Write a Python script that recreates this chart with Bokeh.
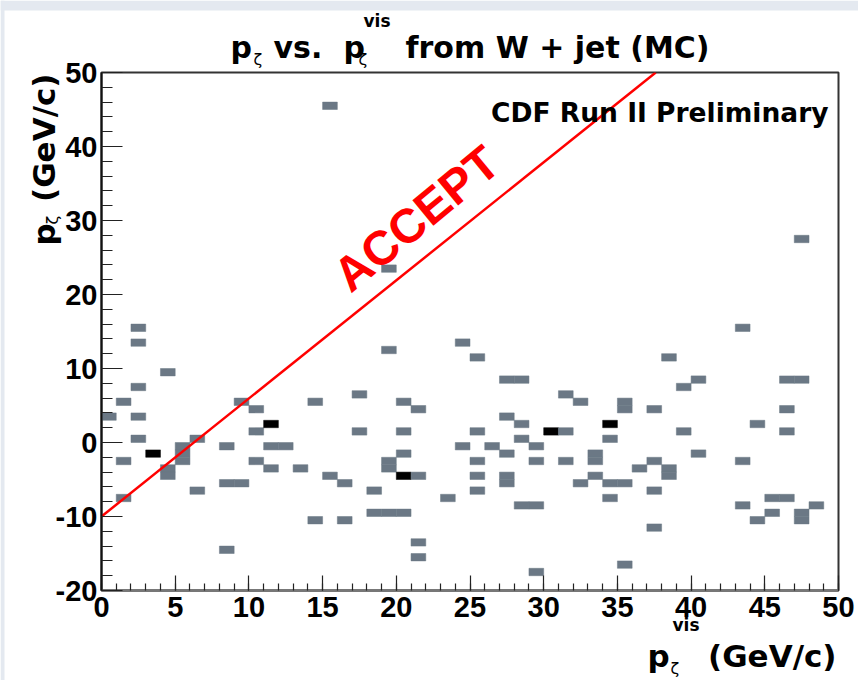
import numpy as np
from bokeh.plotting import figure
from bokeh.models import Range1d, SingleIntervalTicker, Label, GridBox, Column, NumeralTickFormatter
from bokeh.embed import file_html
from bokeh.resources import INLINE

# ---- histogram cells (bin centres, 1x1 GeV/c bins) and entries ----
cell_x = [0.5, 1.5, 1.5, 1.5, 2.5, 2.5, 2.5, 2.5, 2.5, 3.5,
          4.5, 4.5, 4.5, 5.5, 5.5, 5.5, 6.5, 6.5, 8.5, 8.5,
          9.5, 8.5, 9.5, 10.5, 10.5, 10.5, 11.5, 11.5, 12.5, 11.5,
          13.5, 14.5, 14.5, 15.5, 15.5, 16.5, 16.5, 17.5, 17.5, 18.5,
          18.5, 19.5, 20.5, 19.5, 19.5, 19.5, 19.5, 20.5, 20.5, 20.5,
          20.5, 21.5, 21.5, 21.5, 21.5, 23.5, 24.5, 24.5,
          25.5, 25.5, 25.5, 25.5, 25.5, 26.5, 27.5, 28.5, 27.5, 27.5,
          27.5, 27.5, 28.5, 28.5, 28.5, 29.5, 29.5, 29.5, 29.5, 30.5,
          31.5, 31.5, 31.5, 32.5, 32.5, 33.5, 33.5, 33.5, 34.5, 34.5,
          34.5, 35.5, 34.5, 35.5, 35.5, 35.5, 36.5, 37.5, 37.5, 37.5,
          37.5, 38.5, 38.5, 38.5, 39.5, 39.5, 40.5, 40.5, 43.5, 43.5,
          43.5, 44.5, 44.5, 45.5, 45.5, 46.5, 46.5, 47.5, 46.5, 46.5,
          47.5, 47.5, 47.5, 48.5]
cell_y = [3.5, 5.5, -2.5, -7.5, 15.5, 13.5, 7.5, 3.5, 0.5, -1.5,
          9.5, -3.5, -4.5, -0.5, -1.5, -2.5, 0.5, -6.5, -0.5, -5.5,
          -5.5, -14.5, 5.5, 4.5, 1.5, -2.5, 2.5, -0.5, -0.5, -3.5,
          -3.5, 5.5, -10.5, 45.5, -4.5, -5.5, -10.5, 6.5, 1.5, -6.5,
          -9.5, -9.5, -9.5, 12.5, 23.5, -2.5, -3.5, 5.5, 1.5, -1.5,
          -4.5, 4.5, -4.5, -13.5, -15.5, -7.5, 13.5, -0.5,
          11.5, 1.5, -2.5, -4.5, -6.5, -0.5, 8.5, 8.5, 3.5, -1.5,
          -4.5, -5.5, 2.5, 0.5, -8.5, -8.5, -0.5, -2.5, -17.5, 1.5,
          1.5, 6.5, -2.5, 5.5, -5.5, -1.5, -2.5, -4.5, 2.5, 0.5,
          -5.5, -5.5, -7.5, 5.5, 4.5, -16.5, -3.5, 4.5, -2.5, -6.5,
          -11.5, 11.5, -3.5, -4.5, 7.5, 1.5, 8.5, -1.5, 15.5, -2.5,
          -8.5, 2.5, -10.5, -9.5, -7.5, -7.5, 8.5, 8.5, 4.5, 1.5,
          27.5, -9.5, -10.5, -8.5]
cell_n = [1, 1, 1, 1, 1, 1, 1, 1, 1, 2,
          1, 1, 1, 1, 1, 1, 1, 1, 1, 1,
          1, 1, 1, 1, 1, 1, 2, 1, 1, 1,
          1, 1, 1, 1, 1, 1, 1, 1, 1, 1,
          1, 1, 1, 1, 1, 1, 1, 1, 1, 1,
          2, 1, 1, 1, 1, 1, 1, 1,
          1, 1, 1, 1, 1, 1, 1, 1, 1, 1,
          1, 1, 1, 1, 1, 1, 1, 1, 1, 2,
          1, 1, 1, 1, 1, 1, 1, 1, 2, 1,
          1, 1, 1, 1, 1, 1, 1, 1, 1, 1,
          1, 1, 1, 1, 1, 1, 1, 1, 1, 1,
          1, 1, 1, 1, 1, 1, 1, 1, 1, 1,
          1, 1, 1, 1]

# acceptance cut line
cut_x = [0.0, 37.6]
cut_y = [-10.0, 50.0]

x_ticks_interval = 5
y_ticks_interval = 10

W, H = 858, 680
FX0, FY0, SX, SY = 101.0, 72.0, 737.0 / 50.0, 518.0 / 70.0

# ---------------- main plot ----------------
p = figure(width=W, height=H, x_range=Range1d(0, 50), y_range=Range1d(-20, 50),
           output_backend="svg", toolbar_location=None, title=None,
           min_border_left=101, min_border_right=20, min_border_top=72, min_border_bottom=90,
           background_fill_color="white", border_fill_color="white")
p.grid.visible = False
p.outline_line_color = "#333333"
p.outline_line_width = 2

bw = 1.0
left = [x - bw / 2 for x in cell_x]
right = [x + bw / 2 for x in cell_x]
bottom = [y - bw / 2 for y in cell_y]
top = [y + bw / 2 for y in cell_y]
palette = {1: "#6b7885", 2: "#000000"}
colors = [palette[n] for n in cell_n]
p.quad(left=left, right=right, bottom=bottom, top=top, fill_color=colors, line_color=colors,
       line_width=0.5)

p.line(cut_x, cut_y, line_color="#ff0000", line_width=2.5)

p.xaxis.ticker = SingleIntervalTicker(interval=x_ticks_interval, num_minor_ticks=5)
p.yaxis.ticker = SingleIntervalTicker(interval=y_ticks_interval, num_minor_ticks=5)
p.yaxis.formatter = NumeralTickFormatter(format="0")
for ax in (p.xaxis, p.yaxis):
    ax.major_tick_out = 0
    ax.minor_tick_out = 0
    ax.major_label_text_font = "Liberation Sans"
    ax.major_label_text_font_style = "bold"
    ax.major_label_text_font_size = "29px"
    ax.major_label_text_color = "black"
    ax.major_tick_line_color = "#222222"
    ax.minor_tick_line_color = "#222222"
    ax.major_tick_line_width = 1.2
    ax.minor_tick_line_width = 1.2
p.yaxis.major_tick_in = 21
p.yaxis.minor_tick_in = 11
p.xaxis.major_tick_in = 15
p.xaxis.minor_tick_in = 7
p.yaxis.axis_line_color = "#111111"
p.yaxis.axis_line_width = 2
p.xaxis.axis_line_color = "#777777"
p.xaxis.axis_line_width = 3
p.yaxis.major_label_standoff = 4
p.xaxis.major_label_standoff = 6

BF = "DejaVu Sans"


def dlab(fig, text, x, y, size, style="bold", align="left", baseline="alphabetic", angle=0.0,
         color="black", font=BF):
    fig.add_layout(Label(x=x, y=y, text=text, text_font=font, text_font_size=f"{size}px",
                         text_font_style=style, text_align=align, text_baseline=baseline,
                         angle=angle, text_color=color))


# texts inside the frame (data units)
dlab(p, "CDF Run II Preliminary", (828 - FX0) / SX, 50 - (112 - FY0) / SY, 26.5, align="right")
dlab(p, "ACCEPT", (416 - FX0) / SX, 50 - (218 - FY0) / SY, 48, align="center",
     baseline="middle", angle=np.deg2rad(39.5), color="#ff0000", font="Liberation Sans")

# ---------------- transparent overlay for texts outside the frame ----------------
o = figure(width=W, height=H, x_range=Range1d(0, W), y_range=Range1d(H, 0),
           output_backend="svg", toolbar_location=None, title=None,
           x_axis_type=None, y_axis_type=None, min_border=0,
           background_fill_color=None, border_fill_color=None, outline_line_color=None)
o.grid.visible = False
# slide background strips
o.quad(left=[0, 0], right=[4, W], top=[0, 0], bottom=[H, 10], fill_color="#e4e9f0",
       line_color=None)

# title
dlab(o, "p", 230, 47, 30)
dlab(o, "ζ", 253, 59, 16, style="normal")
dlab(o, "vs.", 273, 47, 30)
dlab(o, "p", 343, 47, 30)
dlab(o, "ζ", 358, 59, 16, style="normal")
dlab(o, "vis", 363, 20, 17)
dlab(o, "from W + jet (MC)", 405, 47, 30)

# x axis title
dlab(o, "(GeV/c)", 836, 655, 31, align="right")
dlab(o, "p", 647, 655, 31)
dlab(o, "ζ", 670, 668, 16, style="normal")
dlab(o, "vis", 672, 624, 17)

# y axis title (rotated)
rot = np.pi / 2
dlab(o, "(GeV/c)", 43, 73, 31, align="right", angle=rot)
dlab(o, "p", 43, 245, 31, angle=rot)
dlab(o, "ζ", 52, 224, 16, style="normal", angle=rot)

layout = GridBox(children=[(Column(children=[p]), 0, 0), (Column(children=[o]), 0, 0)])
open("out.html", "w").write(file_html(layout, INLINE))
